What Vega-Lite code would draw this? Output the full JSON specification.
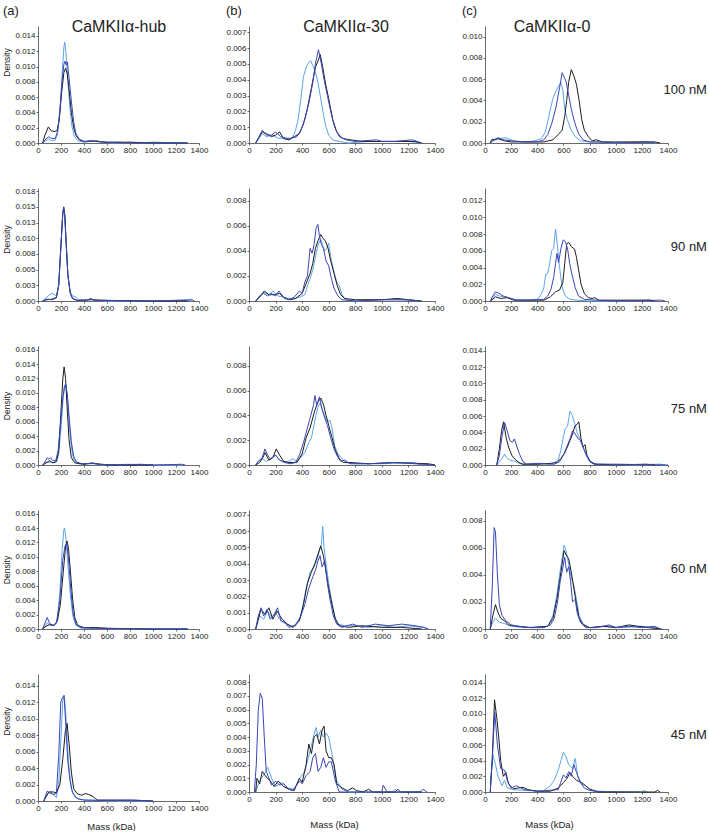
{
"$schema": "https://vega.github.io/schema/vega-lite/v6.json",
"padding": {"left": 2, "top": 4, "right": 0, "bottom": 0},
"config": {
 "font": "Liberation Sans",
 "view": {"stroke": null},
 "axis": {"grid": false, "labelFontSize": 8, "labelFont": "Liberation Sans", "labelColor": "#222", "tickSize": 2, "tickColor": "#444", "domainColor": "#444", "domainWidth": 0.8, "tickWidth": 0.8, "labelPadding": 1, "labelOverlap": false, "labelFlush": false, "titleFontWeight": "normal", "titleFont": "Liberation Sans", "titleColor": "#222"},
 "title": {"fontWeight": "normal", "font": "Liberation Sans", "color": "#222"}
},
"datasets": {
"a1": [
{"s":"LB","m":40,"d":0},{"s":"LB","m":60,"d":0.0002},{"s":"LB","m":90,"d":0.0005},{"s":"LB","m":120,"d":0.0003},{"s":"LB","m":150,"d":0.0004},{"s":"LB","m":170,"d":0.0012},{"s":"LB","m":190,"d":0.004},{"s":"LB","m":210,"d":0.009},{"s":"LB","m":225,"d":0.0125},{"s":"LB","m":233,"d":0.0132},{"s":"LB","m":243,"d":0.0118},{"s":"LB","m":258,"d":0.0085},{"s":"LB","m":275,"d":0.005},{"s":"LB","m":295,"d":0.0022},{"s":"LB","m":315,"d":0.0009},{"s":"LB","m":345,"d":0.0003},{"s":"LB","m":400,"d":0.0001},{"s":"LB","m":460,"d":0.0002},{"s":"LB","m":500,"d":0.0003},{"s":"LB","m":550,"d":0.0001},{"s":"LB","m":650,"d":0},{"s":"LB","m":800,"d":0.0001},{"s":"LB","m":1000,"d":0},{"s":"LB","m":1300,"d":0},
{"s":"BK","m":40,"d":0},{"s":"BK","m":60,"d":0.001},{"s":"BK","m":90,"d":0.0021},{"s":"BK","m":115,"d":0.0016},{"s":"BK","m":140,"d":0.0015},{"s":"BK","m":165,"d":0.0016},{"s":"BK","m":185,"d":0.003},{"s":"BK","m":205,"d":0.0065},{"s":"BK","m":225,"d":0.0092},{"s":"BK","m":240,"d":0.0098},{"s":"BK","m":255,"d":0.009},{"s":"BK","m":270,"d":0.007},{"s":"BK","m":290,"d":0.004},{"s":"BK","m":310,"d":0.002},{"s":"BK","m":330,"d":0.001},{"s":"BK","m":360,"d":0.0004},{"s":"BK","m":400,"d":0.0002},{"s":"BK","m":460,"d":0.0003},{"s":"BK","m":500,"d":0.0002},{"s":"BK","m":600,"d":0.0001},{"s":"BK","m":800,"d":0.0001},{"s":"BK","m":1000,"d":0},{"s":"BK","m":1300,"d":0},
{"s":"DB","m":40,"d":0},{"s":"DB","m":60,"d":0.0004},{"s":"DB","m":90,"d":0.0008},{"s":"DB","m":120,"d":0.0006},{"s":"DB","m":150,"d":0.0006},{"s":"DB","m":170,"d":0.0015},{"s":"DB","m":190,"d":0.0042},{"s":"DB","m":210,"d":0.0082},{"s":"DB","m":225,"d":0.0103},{"s":"DB","m":235,"d":0.0107},{"s":"DB","m":245,"d":0.0102},{"s":"DB","m":255,"d":0.0106},{"s":"DB","m":270,"d":0.0085},{"s":"DB","m":290,"d":0.0055},{"s":"DB","m":310,"d":0.0028},{"s":"DB","m":330,"d":0.0012},{"s":"DB","m":360,"d":0.0005},{"s":"DB","m":400,"d":0.0002},{"s":"DB","m":460,"d":0.0002},{"s":"DB","m":500,"d":0.0003},{"s":"DB","m":540,"d":0.0002},{"s":"DB","m":600,"d":0.0001},{"s":"DB","m":700,"d":0.0001},{"s":"DB","m":850,"d":0},{"s":"DB","m":1000,"d":0.0001},{"s":"DB","m":1300,"d":0}
],
"b1": [
{"s":"LB","m":50,"d":0},{"s":"LB","m":70,"d":0.0002},{"s":"LB","m":100,"d":0.0006},{"s":"LB","m":130,"d":0.0004},{"s":"LB","m":180,"d":0.0005},{"s":"LB","m":220,"d":0.0003},{"s":"LB","m":250,"d":0.0003},{"s":"LB","m":300,"d":0.0002},{"s":"LB","m":330,"d":0.0004},{"s":"LB","m":350,"d":0.0008},{"s":"LB","m":370,"d":0.0015},{"s":"LB","m":390,"d":0.0028},{"s":"LB","m":410,"d":0.0042},{"s":"LB","m":430,"d":0.0048},{"s":"LB","m":450,"d":0.0051},{"s":"LB","m":465,"d":0.0052},{"s":"LB","m":480,"d":0.0049},{"s":"LB","m":500,"d":0.0045},{"s":"LB","m":520,"d":0.0038},{"s":"LB","m":540,"d":0.0028},{"s":"LB","m":560,"d":0.0018},{"s":"LB","m":580,"d":0.001},{"s":"LB","m":600,"d":0.0005},{"s":"LB","m":630,"d":0.0002},{"s":"LB","m":680,"d":0.0001},{"s":"LB","m":750,"d":0},{"s":"LB","m":900,"d":0.0001},{"s":"LB","m":1000,"d":0.0001},{"s":"LB","m":1200,"d":0.0001},{"s":"LB","m":1300,"d":0},
{"s":"BK","m":50,"d":0},{"s":"BK","m":70,"d":0.0003},{"s":"BK","m":100,"d":0.0007},{"s":"BK","m":130,"d":0.0006},{"s":"BK","m":170,"d":0.0004},{"s":"BK","m":200,"d":0.0005},{"s":"BK","m":230,"d":0.0007},{"s":"BK","m":260,"d":0.0003},{"s":"BK","m":300,"d":0.0002},{"s":"BK","m":340,"d":0.0004},{"s":"BK","m":380,"d":0.0006},{"s":"BK","m":410,"d":0.0012},{"s":"BK","m":440,"d":0.0022},{"s":"BK","m":470,"d":0.0035},{"s":"BK","m":500,"d":0.0048},{"s":"BK","m":520,"d":0.0052},{"s":"BK","m":536,"d":0.0056},{"s":"BK","m":555,"d":0.0048},{"s":"BK","m":575,"d":0.0038},{"s":"BK","m":600,"d":0.0028},{"s":"BK","m":630,"d":0.0015},{"s":"BK","m":660,"d":0.0007},{"s":"BK","m":700,"d":0.0003},{"s":"BK","m":760,"d":0.0002},{"s":"BK","m":850,"d":0.0001},{"s":"BK","m":1000,"d":0.0001},{"s":"BK","m":1250,"d":0.0001},{"s":"BK","m":1300,"d":0},
{"s":"DB","m":50,"d":0},{"s":"DB","m":70,"d":0.0003},{"s":"DB","m":100,"d":0.0008},{"s":"DB","m":130,"d":0.0005},{"s":"DB","m":170,"d":0.0005},{"s":"DB","m":200,"d":0.0007},{"s":"DB","m":240,"d":0.0004},{"s":"DB","m":280,"d":0.0003},{"s":"DB","m":320,"d":0.0003},{"s":"DB","m":360,"d":0.0004},{"s":"DB","m":390,"d":0.0008},{"s":"DB","m":420,"d":0.0015},{"s":"DB","m":450,"d":0.0025},{"s":"DB","m":480,"d":0.0038},{"s":"DB","m":500,"d":0.005},{"s":"DB","m":523,"d":0.0059},{"s":"DB","m":545,"d":0.005},{"s":"DB","m":565,"d":0.004},{"s":"DB","m":590,"d":0.003},{"s":"DB","m":620,"d":0.0018},{"s":"DB","m":645,"d":0.001},{"s":"DB","m":680,"d":0.0004},{"s":"DB","m":730,"d":0.0002},{"s":"DB","m":800,"d":0.0001},{"s":"DB","m":960,"d":0.0002},{"s":"DB","m":1000,"d":0.0001},{"s":"DB","m":1100,"d":0.0001},{"s":"DB","m":1230,"d":0.0002},{"s":"DB","m":1300,"d":0}
],
"c1": [
{"s":"LB","m":40,"d":0},{"s":"LB","m":60,"d":0.0002},{"s":"LB","m":100,"d":0.0004},{"s":"LB","m":160,"d":0.0005},{"s":"LB","m":220,"d":0.0002},{"s":"LB","m":300,"d":0.0001},{"s":"LB","m":380,"d":0.0002},{"s":"LB","m":430,"d":0.0004},{"s":"LB","m":460,"d":0.001},{"s":"LB","m":480,"d":0.002},{"s":"LB","m":500,"d":0.0032},{"s":"LB","m":520,"d":0.0042},{"s":"LB","m":540,"d":0.0048},{"s":"LB","m":560,"d":0.0053},{"s":"LB","m":580,"d":0.0057},{"s":"LB","m":595,"d":0.005},{"s":"LB","m":610,"d":0.0032},{"s":"LB","m":630,"d":0.0022},{"s":"LB","m":660,"d":0.0012},{"s":"LB","m":690,"d":0.0006},{"s":"LB","m":730,"d":0.0002},{"s":"LB","m":800,"d":0.0001},{"s":"LB","m":1000,"d":0},{"s":"LB","m":1200,"d":0.0001},{"s":"LB","m":1300,"d":0},
{"s":"BK","m":40,"d":0},{"s":"BK","m":50,"d":0.0003},{"s":"BK","m":100,"d":0.0004},{"s":"BK","m":150,"d":0.0002},{"s":"BK","m":200,"d":0.0001},{"s":"BK","m":300,"d":0.0001},{"s":"BK","m":450,"d":0.0001},{"s":"BK","m":520,"d":0.0003},{"s":"BK","m":560,"d":0.0008},{"s":"BK","m":590,"d":0.0012},{"s":"BK","m":610,"d":0.0025},{"s":"BK","m":625,"d":0.004},{"s":"BK","m":640,"d":0.0057},{"s":"BK","m":660,"d":0.0069},{"s":"BK","m":680,"d":0.0063},{"s":"BK","m":700,"d":0.0055},{"s":"BK","m":720,"d":0.004},{"s":"BK","m":740,"d":0.0022},{"s":"BK","m":760,"d":0.0012},{"s":"BK","m":790,"d":0.0006},{"s":"BK","m":820,"d":0.0002},{"s":"BK","m":850,"d":0.0003},{"s":"BK","m":900,"d":0.0001},{"s":"BK","m":1000,"d":0.0001},{"s":"BK","m":1300,"d":0.0001},{"s":"BK","m":1340,"d":0},
{"s":"DB","m":40,"d":0},{"s":"DB","m":60,"d":0.0002},{"s":"DB","m":100,"d":0.0005},{"s":"DB","m":140,"d":0.0003},{"s":"DB","m":200,"d":0.0002},{"s":"DB","m":300,"d":0.0001},{"s":"DB","m":400,"d":0.0001},{"s":"DB","m":450,"d":0.0003},{"s":"DB","m":480,"d":0.0008},{"s":"DB","m":510,"d":0.0018},{"s":"DB","m":540,"d":0.0032},{"s":"DB","m":560,"d":0.0045},{"s":"DB","m":575,"d":0.0055},{"s":"DB","m":590,"d":0.0066},{"s":"DB","m":605,"d":0.0062},{"s":"DB","m":620,"d":0.0058},{"s":"DB","m":640,"d":0.0045},{"s":"DB","m":660,"d":0.0032},{"s":"DB","m":680,"d":0.0022},{"s":"DB","m":700,"d":0.0014},{"s":"DB","m":720,"d":0.0008},{"s":"DB","m":750,"d":0.0003},{"s":"DB","m":800,"d":0.0001},{"s":"DB","m":900,"d":0.0001},{"s":"DB","m":1000,"d":0},{"s":"DB","m":1250,"d":0.0001},{"s":"DB","m":1300,"d":0}
],
"a2": [
{"s":"LB","m":40,"d":0},{"s":"LB","m":70,"d":0.0005},{"s":"LB","m":100,"d":0.001},{"s":"LB","m":130,"d":0.0012},{"s":"LB","m":160,"d":0.0008},{"s":"LB","m":180,"d":0.0025},{"s":"LB","m":200,"d":0.009},{"s":"LB","m":215,"d":0.0138},{"s":"LB","m":222,"d":0.0148},{"s":"LB","m":232,"d":0.0135},{"s":"LB","m":245,"d":0.009},{"s":"LB","m":260,"d":0.004},{"s":"LB","m":280,"d":0.0015},{"s":"LB","m":300,"d":0.0008},{"s":"LB","m":325,"d":0.0007},{"s":"LB","m":350,"d":0.0002},{"s":"LB","m":420,"d":0.0001},{"s":"LB","m":460,"d":0.0003},{"s":"LB","m":500,"d":0.0001},{"s":"LB","m":600,"d":0},{"s":"LB","m":800,"d":0},{"s":"LB","m":1300,"d":0.0001},{"s":"LB","m":1340,"d":0},
{"s":"BK","m":40,"d":0},{"s":"BK","m":80,"d":0.0003},{"s":"BK","m":120,"d":0.0002},{"s":"BK","m":160,"d":0.0005},{"s":"BK","m":180,"d":0.0025},{"s":"BK","m":200,"d":0.009},{"s":"BK","m":215,"d":0.0139},{"s":"BK","m":224,"d":0.015},{"s":"BK","m":234,"d":0.0136},{"s":"BK","m":246,"d":0.009},{"s":"BK","m":260,"d":0.0042},{"s":"BK","m":280,"d":0.0013},{"s":"BK","m":300,"d":0.0004},{"s":"BK","m":340,"d":0.0001},{"s":"BK","m":460,"d":0.0002},{"s":"BK","m":600,"d":0.0001},{"s":"BK","m":1000,"d":0},{"s":"BK","m":1300,"d":0},
{"s":"DB","m":40,"d":0},{"s":"DB","m":80,"d":0.0002},{"s":"DB","m":120,"d":0.0003},{"s":"DB","m":160,"d":0.0006},{"s":"DB","m":180,"d":0.0025},{"s":"DB","m":200,"d":0.009},{"s":"DB","m":215,"d":0.0138},{"s":"DB","m":223,"d":0.0149},{"s":"DB","m":233,"d":0.0135},{"s":"DB","m":245,"d":0.009},{"s":"DB","m":260,"d":0.004},{"s":"DB","m":280,"d":0.0013},{"s":"DB","m":300,"d":0.0004},{"s":"DB","m":340,"d":0.0001},{"s":"DB","m":420,"d":0.0001},{"s":"DB","m":460,"d":0.0004},{"s":"DB","m":490,"d":0.0001},{"s":"DB","m":600,"d":0.0001},{"s":"DB","m":800,"d":0},{"s":"DB","m":1000,"d":0},{"s":"DB","m":1340,"d":0.0002},{"s":"DB","m":1360,"d":0}
],
"b2": [
{"s":"LB","m":50,"d":0},{"s":"LB","m":80,"d":0.0004},{"s":"LB","m":110,"d":0.0007},{"s":"LB","m":150,"d":0.0005},{"s":"LB","m":180,"d":0.0008},{"s":"LB","m":220,"d":0.0004},{"s":"LB","m":260,"d":0.0003},{"s":"LB","m":300,"d":0.0002},{"s":"LB","m":340,"d":0.0002},{"s":"LB","m":380,"d":0.0003},{"s":"LB","m":420,"d":0.0005},{"s":"LB","m":440,"d":0.0012},{"s":"LB","m":460,"d":0.0018},{"s":"LB","m":480,"d":0.0025},{"s":"LB","m":500,"d":0.0035},{"s":"LB","m":520,"d":0.0045},{"s":"LB","m":540,"d":0.0049},{"s":"LB","m":555,"d":0.0044},{"s":"LB","m":570,"d":0.004},{"s":"LB","m":585,"d":0.0042},{"s":"LB","m":600,"d":0.0046},{"s":"LB","m":615,"d":0.0035},{"s":"LB","m":635,"d":0.0025},{"s":"LB","m":660,"d":0.0015},{"s":"LB","m":680,"d":0.0012},{"s":"LB","m":700,"d":0.0005},{"s":"LB","m":730,"d":0.0001},{"s":"LB","m":800,"d":0},{"s":"LB","m":1000,"d":0.0001},{"s":"LB","m":1130,"d":0.0001},{"s":"LB","m":1300,"d":0},
{"s":"BK","m":50,"d":0},{"s":"BK","m":80,"d":0.0003},{"s":"BK","m":115,"d":0.0008},{"s":"BK","m":150,"d":0.0005},{"s":"BK","m":190,"d":0.0005},{"s":"BK","m":230,"d":0.0006},{"s":"BK","m":270,"d":0.0002},{"s":"BK","m":310,"d":0.0001},{"s":"BK","m":350,"d":0.0002},{"s":"BK","m":400,"d":0.0006},{"s":"BK","m":430,"d":0.0014},{"s":"BK","m":460,"d":0.0022},{"s":"BK","m":480,"d":0.003},{"s":"BK","m":500,"d":0.0042},{"s":"BK","m":520,"d":0.0048},{"s":"BK","m":540,"d":0.0053},{"s":"BK","m":555,"d":0.005},{"s":"BK","m":575,"d":0.0048},{"s":"BK","m":595,"d":0.0042},{"s":"BK","m":615,"d":0.0032},{"s":"BK","m":640,"d":0.0022},{"s":"BK","m":665,"d":0.0012},{"s":"BK","m":690,"d":0.0005},{"s":"BK","m":720,"d":0.0002},{"s":"BK","m":800,"d":0.0001},{"s":"BK","m":1000,"d":0.0001},{"s":"BK","m":1120,"d":0.0002},{"s":"BK","m":1200,"d":0.0001},{"s":"BK","m":1300,"d":0},
{"s":"DB","m":50,"d":0},{"s":"DB","m":80,"d":0.0004},{"s":"DB","m":110,"d":0.0006},{"s":"DB","m":140,"d":0.0004},{"s":"DB","m":170,"d":0.0006},{"s":"DB","m":200,"d":0.0004},{"s":"DB","m":225,"d":0.0008},{"s":"DB","m":260,"d":0.0003},{"s":"DB","m":300,"d":0.0001},{"s":"DB","m":340,"d":0.0003},{"s":"DB","m":380,"d":0.0008},{"s":"DB","m":400,"d":0.0006},{"s":"DB","m":420,"d":0.0015},{"s":"DB","m":440,"d":0.002},{"s":"DB","m":460,"d":0.0042},{"s":"DB","m":475,"d":0.0038},{"s":"DB","m":490,"d":0.0045},{"s":"DB","m":505,"d":0.0058},{"s":"DB","m":518,"d":0.0061},{"s":"DB","m":530,"d":0.0052},{"s":"DB","m":545,"d":0.0045},{"s":"DB","m":560,"d":0.0042},{"s":"DB","m":580,"d":0.0032},{"s":"DB","m":600,"d":0.0028},{"s":"DB","m":620,"d":0.0018},{"s":"DB","m":640,"d":0.001},{"s":"DB","m":670,"d":0.0004},{"s":"DB","m":700,"d":0.0001},{"s":"DB","m":800,"d":0},{"s":"DB","m":1000,"d":0.0001},{"s":"DB","m":1200,"d":0.0001},{"s":"DB","m":1280,"d":0}
],
"c2": [
{"s":"LB","m":40,"d":0},{"s":"LB","m":60,"d":0.0004},{"s":"LB","m":80,"d":0.0008},{"s":"LB","m":110,"d":0.0006},{"s":"LB","m":150,"d":0.0005},{"s":"LB","m":190,"d":0.0003},{"s":"LB","m":250,"d":0.0001},{"s":"LB","m":350,"d":0.0001},{"s":"LB","m":400,"d":0.0002},{"s":"LB","m":430,"d":0.0008},{"s":"LB","m":450,"d":0.0016},{"s":"LB","m":465,"d":0.0032},{"s":"LB","m":480,"d":0.0033},{"s":"LB","m":495,"d":0.0045},{"s":"LB","m":510,"d":0.006},{"s":"LB","m":525,"d":0.0063},{"s":"LB","m":540,"d":0.0086},{"s":"LB","m":553,"d":0.0068},{"s":"LB","m":565,"d":0.0048},{"s":"LB","m":580,"d":0.0028},{"s":"LB","m":595,"d":0.0014},{"s":"LB","m":615,"d":0.0006},{"s":"LB","m":650,"d":0.0002},{"s":"LB","m":700,"d":0.0001},{"s":"LB","m":800,"d":0},{"s":"LB","m":1000,"d":0},{"s":"LB","m":1260,"d":0.0001},{"s":"LB","m":1300,"d":0},
{"s":"BK","m":40,"d":0},{"s":"BK","m":60,"d":0.0002},{"s":"BK","m":80,"d":0.0005},{"s":"BK","m":120,"d":0.0003},{"s":"BK","m":170,"d":0.0004},{"s":"BK","m":220,"d":0.0001},{"s":"BK","m":350,"d":0.0001},{"s":"BK","m":450,"d":0.0001},{"s":"BK","m":500,"d":0.0005},{"s":"BK","m":540,"d":0.0011},{"s":"BK","m":570,"d":0.0013},{"s":"BK","m":595,"d":0.0022},{"s":"BK","m":610,"d":0.0045},{"s":"BK","m":625,"d":0.0068},{"s":"BK","m":640,"d":0.007},{"s":"BK","m":660,"d":0.0065},{"s":"BK","m":685,"d":0.0062},{"s":"BK","m":700,"d":0.0052},{"s":"BK","m":715,"d":0.0038},{"s":"BK","m":735,"d":0.002},{"s":"BK","m":760,"d":0.0009},{"s":"BK","m":790,"d":0.0004},{"s":"BK","m":820,"d":0.0003},{"s":"BK","m":840,"d":0.0004},{"s":"BK","m":870,"d":0.0001},{"s":"BK","m":1000,"d":0.0001},{"s":"BK","m":1260,"d":0.0001},{"s":"BK","m":1300,"d":0},
{"s":"DB","m":40,"d":0},{"s":"DB","m":60,"d":0.0006},{"s":"DB","m":80,"d":0.0011},{"s":"DB","m":110,"d":0.0009},{"s":"DB","m":140,"d":0.0006},{"s":"DB","m":180,"d":0.0004},{"s":"DB","m":240,"d":0.0001},{"s":"DB","m":350,"d":0.0001},{"s":"DB","m":450,"d":0.0002},{"s":"DB","m":480,"d":0.0006},{"s":"DB","m":505,"d":0.0014},{"s":"DB","m":525,"d":0.0028},{"s":"DB","m":540,"d":0.0045},{"s":"DB","m":550,"d":0.0057},{"s":"DB","m":563,"d":0.0046},{"s":"DB","m":580,"d":0.0062},{"s":"DB","m":598,"d":0.0073},{"s":"DB","m":615,"d":0.0071},{"s":"DB","m":632,"d":0.0062},{"s":"DB","m":648,"d":0.0045},{"s":"DB","m":665,"d":0.0032},{"s":"DB","m":690,"d":0.0016},{"s":"DB","m":715,"d":0.0006},{"s":"DB","m":760,"d":0.0002},{"s":"DB","m":850,"d":0.0001},{"s":"DB","m":1000,"d":0},{"s":"DB","m":1350,"d":0.0001},{"s":"DB","m":1380,"d":0}
],
"a3": [
{"s":"LB","m":40,"d":0},{"s":"LB","m":70,"d":0.0003},{"s":"LB","m":100,"d":0.0004},{"s":"LB","m":130,"d":0.0003},{"s":"LB","m":160,"d":0.0004},{"s":"LB","m":180,"d":0.0015},{"s":"LB","m":200,"d":0.005},{"s":"LB","m":220,"d":0.0095},{"s":"LB","m":238,"d":0.0112},{"s":"LB","m":255,"d":0.0095},{"s":"LB","m":270,"d":0.006},{"s":"LB","m":290,"d":0.0025},{"s":"LB","m":310,"d":0.0008},{"s":"LB","m":340,"d":0.0002},{"s":"LB","m":400,"d":0.0001},{"s":"LB","m":480,"d":0.0002},{"s":"LB","m":550,"d":0},{"s":"LB","m":800,"d":0.0001},{"s":"LB","m":1000,"d":0},{"s":"LB","m":1250,"d":0},
{"s":"BK","m":40,"d":0},{"s":"BK","m":70,"d":0.0003},{"s":"BK","m":100,"d":0.0006},{"s":"BK","m":130,"d":0.0003},{"s":"BK","m":160,"d":0.0005},{"s":"BK","m":180,"d":0.002},{"s":"BK","m":200,"d":0.0075},{"s":"BK","m":215,"d":0.0118},{"s":"BK","m":227,"d":0.0136},{"s":"BK","m":240,"d":0.012},{"s":"BK","m":255,"d":0.0075},{"s":"BK","m":270,"d":0.0035},{"s":"BK","m":290,"d":0.001},{"s":"BK","m":320,"d":0.0003},{"s":"BK","m":400,"d":0.0001},{"s":"BK","m":470,"d":0.0003},{"s":"BK","m":500,"d":0.0002},{"s":"BK","m":600,"d":0},{"s":"BK","m":800,"d":0},{"s":"BK","m":1000,"d":0},
{"s":"DB","m":40,"d":0},{"s":"DB","m":60,"d":0.0004},{"s":"DB","m":80,"d":0.001},{"s":"DB","m":95,"d":0.0008},{"s":"DB","m":110,"d":0.001},{"s":"DB","m":130,"d":0.0006},{"s":"DB","m":155,"d":0.0006},{"s":"DB","m":175,"d":0.002},{"s":"DB","m":195,"d":0.0055},{"s":"DB","m":215,"d":0.0092},{"s":"DB","m":230,"d":0.011},{"s":"DB","m":242,"d":0.0112},{"s":"DB","m":255,"d":0.0098},{"s":"DB","m":270,"d":0.0068},{"s":"DB","m":290,"d":0.0032},{"s":"DB","m":310,"d":0.0012},{"s":"DB","m":335,"d":0.0004},{"s":"DB","m":380,"d":0.0002},{"s":"DB","m":480,"d":0.0002},{"s":"DB","m":540,"d":0.0001},{"s":"DB","m":700,"d":0},{"s":"DB","m":900,"d":0.0001},{"s":"DB","m":1000,"d":0},{"s":"DB","m":1250,"d":0.0001},{"s":"DB","m":1280,"d":0}
],
"b3": [
{"s":"LB","m":50,"d":0},{"s":"LB","m":70,"d":0.0003},{"s":"LB","m":100,"d":0.0005},{"s":"LB","m":130,"d":0.0003},{"s":"LB","m":170,"d":0.0005},{"s":"LB","m":200,"d":0.0008},{"s":"LB","m":230,"d":0.0004},{"s":"LB","m":270,"d":0.0002},{"s":"LB","m":300,"d":0.0003},{"s":"LB","m":330,"d":0.0005},{"s":"LB","m":360,"d":0.0003},{"s":"LB","m":390,"d":0.0006},{"s":"LB","m":420,"d":0.001},{"s":"LB","m":450,"d":0.0018},{"s":"LB","m":470,"d":0.0022},{"s":"LB","m":500,"d":0.0038},{"s":"LB","m":520,"d":0.0047},{"s":"LB","m":535,"d":0.005},{"s":"LB","m":550,"d":0.0045},{"s":"LB","m":570,"d":0.004},{"s":"LB","m":590,"d":0.0035},{"s":"LB","m":610,"d":0.0036},{"s":"LB","m":625,"d":0.003},{"s":"LB","m":645,"d":0.0015},{"s":"LB","m":670,"d":0.0009},{"s":"LB","m":700,"d":0.0005},{"s":"LB","m":730,"d":0.0002},{"s":"LB","m":800,"d":0.0001},{"s":"LB","m":1000,"d":0.0001},{"s":"LB","m":1240,"d":0.0002},{"s":"LB","m":1300,"d":0},
{"s":"BK","m":50,"d":0},{"s":"BK","m":80,"d":0.0002},{"s":"BK","m":105,"d":0.0006},{"s":"BK","m":120,"d":0.001},{"s":"BK","m":150,"d":0.0004},{"s":"BK","m":180,"d":0.0006},{"s":"BK","m":205,"d":0.0013},{"s":"BK","m":230,"d":0.0008},{"s":"BK","m":260,"d":0.0003},{"s":"BK","m":300,"d":0.0002},{"s":"BK","m":360,"d":0.0002},{"s":"BK","m":400,"d":0.0009},{"s":"BK","m":430,"d":0.0022},{"s":"BK","m":460,"d":0.003},{"s":"BK","m":490,"d":0.0042},{"s":"BK","m":515,"d":0.005},{"s":"BK","m":540,"d":0.0054},{"s":"BK","m":560,"d":0.0049},{"s":"BK","m":580,"d":0.004},{"s":"BK","m":600,"d":0.0032},{"s":"BK","m":625,"d":0.0022},{"s":"BK","m":650,"d":0.0012},{"s":"BK","m":680,"d":0.0005},{"s":"BK","m":710,"d":0.0002},{"s":"BK","m":760,"d":0.0002},{"s":"BK","m":900,"d":0.0001},{"s":"BK","m":1080,"d":0.0002},{"s":"BK","m":1350,"d":0.0001},{"s":"BK","m":1400,"d":0},
{"s":"DB","m":50,"d":0},{"s":"DB","m":70,"d":0.0003},{"s":"DB","m":100,"d":0.0006},{"s":"DB","m":120,"d":0.0013},{"s":"DB","m":140,"d":0.0008},{"s":"DB","m":160,"d":0.0005},{"s":"DB","m":200,"d":0.0008},{"s":"DB","m":230,"d":0.0004},{"s":"DB","m":270,"d":0.0002},{"s":"DB","m":310,"d":0.0001},{"s":"DB","m":350,"d":0.0002},{"s":"DB","m":380,"d":0.0008},{"s":"DB","m":410,"d":0.0018},{"s":"DB","m":440,"d":0.003},{"s":"DB","m":465,"d":0.004},{"s":"DB","m":485,"d":0.0048},{"s":"DB","m":497,"d":0.0056},{"s":"DB","m":510,"d":0.0048},{"s":"DB","m":530,"d":0.0055},{"s":"DB","m":550,"d":0.0045},{"s":"DB","m":570,"d":0.0038},{"s":"DB","m":590,"d":0.0032},{"s":"DB","m":615,"d":0.0022},{"s":"DB","m":640,"d":0.0013},{"s":"DB","m":665,"d":0.0007},{"s":"DB","m":690,"d":0.0003},{"s":"DB","m":720,"d":0.0004},{"s":"DB","m":760,"d":0.0001},{"s":"DB","m":900,"d":0.0001},{"s":"DB","m":1100,"d":0.0002},{"s":"DB","m":1400,"d":0}
],
"c3": [
{"s":"LB","m":90,"d":0},{"s":"LB","m":110,"d":0.0004},{"s":"LB","m":130,"d":0.0008},{"s":"LB","m":150,"d":0.0013},{"s":"LB","m":165,"d":0.0009},{"s":"LB","m":190,"d":0.0006},{"s":"LB","m":220,"d":0.0005},{"s":"LB","m":250,"d":0.0003},{"s":"LB","m":280,"d":0.0001},{"s":"LB","m":400,"d":0.0001},{"s":"LB","m":520,"d":0.0002},{"s":"LB","m":560,"d":0.0006},{"s":"LB","m":580,"d":0.0018},{"s":"LB","m":600,"d":0.0035},{"s":"LB","m":615,"d":0.0045},{"s":"LB","m":632,"d":0.0048},{"s":"LB","m":650,"d":0.0066},{"s":"LB","m":668,"d":0.0061},{"s":"LB","m":688,"d":0.005},{"s":"LB","m":705,"d":0.004},{"s":"LB","m":725,"d":0.0032},{"s":"LB","m":745,"d":0.0025},{"s":"LB","m":770,"d":0.0013},{"s":"LB","m":795,"d":0.0005},{"s":"LB","m":830,"d":0.0001},{"s":"LB","m":900,"d":0.0001},{"s":"LB","m":1000,"d":0},{"s":"LB","m":1340,"d":0.0001},{"s":"LB","m":1380,"d":0},
{"s":"BK","m":90,"d":0},{"s":"BK","m":110,"d":0.002},{"s":"BK","m":128,"d":0.0043},{"s":"BK","m":142,"d":0.0053},{"s":"BK","m":160,"d":0.0035},{"s":"BK","m":180,"d":0.0022},{"s":"BK","m":205,"d":0.0012},{"s":"BK","m":230,"d":0.0007},{"s":"BK","m":260,"d":0.0003},{"s":"BK","m":290,"d":0.0001},{"s":"BK","m":400,"d":0.0001},{"s":"BK","m":500,"d":0.0002},{"s":"BK","m":550,"d":0.0003},{"s":"BK","m":580,"d":0.0008},{"s":"BK","m":610,"d":0.0015},{"s":"BK","m":630,"d":0.0022},{"s":"BK","m":650,"d":0.003},{"s":"BK","m":670,"d":0.0038},{"s":"BK","m":688,"d":0.0048},{"s":"BK","m":705,"d":0.005},{"s":"BK","m":718,"d":0.0053},{"s":"BK","m":735,"d":0.0032},{"s":"BK","m":750,"d":0.0022},{"s":"BK","m":765,"d":0.0025},{"s":"BK","m":780,"d":0.0012},{"s":"BK","m":805,"d":0.0004},{"s":"BK","m":840,"d":0.0001},{"s":"BK","m":1000,"d":0},{"s":"BK","m":1230,"d":0.0001},{"s":"BK","m":1300,"d":0},
{"s":"DB","m":90,"d":0},{"s":"DB","m":110,"d":0.0012},{"s":"DB","m":130,"d":0.0035},{"s":"DB","m":150,"d":0.0052},{"s":"DB","m":170,"d":0.0042},{"s":"DB","m":190,"d":0.003},{"s":"DB","m":210,"d":0.0028},{"s":"DB","m":225,"d":0.0032},{"s":"DB","m":245,"d":0.0022},{"s":"DB","m":265,"d":0.0013},{"s":"DB","m":290,"d":0.0004},{"s":"DB","m":320,"d":0.0001},{"s":"DB","m":380,"d":0.0002},{"s":"DB","m":430,"d":0.0002},{"s":"DB","m":480,"d":0.0001},{"s":"DB","m":530,"d":0.0001},{"s":"DB","m":570,"d":0.0004},{"s":"DB","m":600,"d":0.0012},{"s":"DB","m":625,"d":0.0022},{"s":"DB","m":650,"d":0.0032},{"s":"DB","m":670,"d":0.0042},{"s":"DB","m":690,"d":0.0038},{"s":"DB","m":710,"d":0.0033},{"s":"DB","m":730,"d":0.003},{"s":"DB","m":755,"d":0.002},{"s":"DB","m":780,"d":0.0011},{"s":"DB","m":810,"d":0.0004},{"s":"DB","m":850,"d":0.0001},{"s":"DB","m":1000,"d":0.0001},{"s":"DB","m":1400,"d":0}
],
"a4": [
{"s":"LB","m":40,"d":0},{"s":"LB","m":60,"d":0.0005},{"s":"LB","m":80,"d":0.0008},{"s":"LB","m":110,"d":0.0005},{"s":"LB","m":140,"d":0.0005},{"s":"LB","m":165,"d":0.001},{"s":"LB","m":190,"d":0.005},{"s":"LB","m":210,"d":0.011},{"s":"LB","m":225,"d":0.0138},{"s":"LB","m":232,"d":0.014},{"s":"LB","m":245,"d":0.0122},{"s":"LB","m":262,"d":0.0085},{"s":"LB","m":285,"d":0.0042},{"s":"LB","m":305,"d":0.0016},{"s":"LB","m":330,"d":0.0005},{"s":"LB","m":380,"d":0.0001},{"s":"LB","m":500,"d":0.0001},{"s":"LB","m":1000,"d":0},{"s":"LB","m":1300,"d":0},
{"s":"BK","m":40,"d":0},{"s":"BK","m":70,"d":0.0004},{"s":"BK","m":100,"d":0.0006},{"s":"BK","m":140,"d":0.0005},{"s":"BK","m":170,"d":0.0012},{"s":"BK","m":195,"d":0.0035},{"s":"BK","m":220,"d":0.008},{"s":"BK","m":240,"d":0.0115},{"s":"BK","m":252,"d":0.0122},{"s":"BK","m":265,"d":0.0112},{"s":"BK","m":282,"d":0.008},{"s":"BK","m":300,"d":0.0043},{"s":"BK","m":320,"d":0.0016},{"s":"BK","m":345,"d":0.0005},{"s":"BK","m":400,"d":0.0002},{"s":"BK","m":500,"d":0.0002},{"s":"BK","m":600,"d":0.0001},{"s":"BK","m":1000,"d":0},{"s":"BK","m":1300,"d":0},
{"s":"DB","m":40,"d":0},{"s":"DB","m":60,"d":0.0008},{"s":"DB","m":80,"d":0.0016},{"s":"DB","m":100,"d":0.0008},{"s":"DB","m":130,"d":0.0005},{"s":"DB","m":160,"d":0.0008},{"s":"DB","m":190,"d":0.004},{"s":"DB","m":215,"d":0.0095},{"s":"DB","m":235,"d":0.0115},{"s":"DB","m":250,"d":0.0119},{"s":"DB","m":265,"d":0.0098},{"s":"DB","m":285,"d":0.0055},{"s":"DB","m":305,"d":0.0022},{"s":"DB","m":330,"d":0.0007},{"s":"DB","m":370,"d":0.0002},{"s":"DB","m":500,"d":0.0001},{"s":"DB","m":1000,"d":0},{"s":"DB","m":1300,"d":0}
],
"b4": [
{"s":"LB","m":50,"d":0},{"s":"LB","m":80,"d":0.0008},{"s":"LB","m":110,"d":0.0006},{"s":"LB","m":140,"d":0.0011},{"s":"LB","m":170,"d":0.0007},{"s":"LB","m":200,"d":0.001},{"s":"LB","m":230,"d":0.0006},{"s":"LB","m":260,"d":0.0004},{"s":"LB","m":300,"d":0.0002},{"s":"LB","m":340,"d":0.0002},{"s":"LB","m":380,"d":0.0006},{"s":"LB","m":400,"d":0.0012},{"s":"LB","m":430,"d":0.0025},{"s":"LB","m":460,"d":0.0035},{"s":"LB","m":490,"d":0.0038},{"s":"LB","m":510,"d":0.0042},{"s":"LB","m":530,"d":0.0048},{"s":"LB","m":545,"d":0.0052},{"s":"LB","m":555,"d":0.0063},{"s":"LB","m":565,"d":0.005},{"s":"LB","m":580,"d":0.004},{"s":"LB","m":600,"d":0.0028},{"s":"LB","m":620,"d":0.0018},{"s":"LB","m":645,"d":0.0008},{"s":"LB","m":670,"d":0.0003},{"s":"LB","m":720,"d":0.0002},{"s":"LB","m":800,"d":0.0002},{"s":"LB","m":900,"d":0.0001},{"s":"LB","m":1000,"d":0.0002},{"s":"LB","m":1100,"d":0.0001},{"s":"LB","m":1200,"d":0.0002},{"s":"LB","m":1300,"d":0.0001},{"s":"LB","m":1350,"d":0},
{"s":"BK","m":50,"d":0},{"s":"BK","m":70,"d":0.0006},{"s":"BK","m":90,"d":0.0012},{"s":"BK","m":120,"d":0.0009},{"s":"BK","m":150,"d":0.0013},{"s":"BK","m":180,"d":0.0006},{"s":"BK","m":210,"d":0.0011},{"s":"BK","m":250,"d":0.0006},{"s":"BK","m":290,"d":0.0003},{"s":"BK","m":330,"d":0.0001},{"s":"BK","m":380,"d":0.0005},{"s":"BK","m":410,"d":0.0015},{"s":"BK","m":440,"d":0.0028},{"s":"BK","m":470,"d":0.0035},{"s":"BK","m":495,"d":0.004},{"s":"BK","m":520,"d":0.0046},{"s":"BK","m":540,"d":0.0051},{"s":"BK","m":560,"d":0.0045},{"s":"BK","m":580,"d":0.0035},{"s":"BK","m":600,"d":0.0025},{"s":"BK","m":625,"d":0.0015},{"s":"BK","m":650,"d":0.0006},{"s":"BK","m":680,"d":0.0002},{"s":"BK","m":750,"d":0.0001},{"s":"BK","m":850,"d":0.0002},{"s":"BK","m":1000,"d":0.0001},{"s":"BK","m":1150,"d":0.0001},{"s":"BK","m":1300,"d":0},
{"s":"DB","m":50,"d":0},{"s":"DB","m":70,"d":0.0008},{"s":"DB","m":90,"d":0.0013},{"s":"DB","m":110,"d":0.0008},{"s":"DB","m":135,"d":0.0012},{"s":"DB","m":160,"d":0.0006},{"s":"DB","m":190,"d":0.0009},{"s":"DB","m":215,"d":0.0013},{"s":"DB","m":240,"d":0.0005},{"s":"DB","m":270,"d":0.0004},{"s":"DB","m":300,"d":0.0001},{"s":"DB","m":350,"d":0.0002},{"s":"DB","m":390,"d":0.0008},{"s":"DB","m":420,"d":0.0015},{"s":"DB","m":450,"d":0.0025},{"s":"DB","m":480,"d":0.0032},{"s":"DB","m":500,"d":0.0036},{"s":"DB","m":520,"d":0.0042},{"s":"DB","m":535,"d":0.0045},{"s":"DB","m":550,"d":0.0038},{"s":"DB","m":570,"d":0.0042},{"s":"DB","m":590,"d":0.0028},{"s":"DB","m":610,"d":0.0018},{"s":"DB","m":635,"d":0.0008},{"s":"DB","m":660,"d":0.0003},{"s":"DB","m":700,"d":0.0001},{"s":"DB","m":780,"d":0.0003},{"s":"DB","m":850,"d":0.0001},{"s":"DB","m":950,"d":0.0003},{"s":"DB","m":1050,"d":0.0002},{"s":"DB","m":1150,"d":0.0003},{"s":"DB","m":1250,"d":0.0002},{"s":"DB","m":1320,"d":0.0001},{"s":"DB","m":1350,"d":0}
],
"c4": [
{"s":"LB","m":40,"d":0},{"s":"LB","m":60,"d":0.0005},{"s":"LB","m":80,"d":0.0008},{"s":"LB","m":110,"d":0.0005},{"s":"LB","m":150,"d":0.0004},{"s":"LB","m":200,"d":0.0002},{"s":"LB","m":300,"d":0.0001},{"s":"LB","m":480,"d":0.0002},{"s":"LB","m":520,"d":0.001},{"s":"LB","m":550,"d":0.0025},{"s":"LB","m":570,"d":0.004},{"s":"LB","m":590,"d":0.0052},{"s":"LB","m":605,"d":0.0062},{"s":"LB","m":620,"d":0.0058},{"s":"LB","m":640,"d":0.0048},{"s":"LB","m":660,"d":0.0038},{"s":"LB","m":680,"d":0.0032},{"s":"LB","m":700,"d":0.0022},{"s":"LB","m":720,"d":0.001},{"s":"LB","m":750,"d":0.0004},{"s":"LB","m":800,"d":0.0001},{"s":"LB","m":950,"d":0.0002},{"s":"LB","m":1050,"d":0.0001},{"s":"LB","m":1200,"d":0.0002},{"s":"LB","m":1300,"d":0.0001},{"s":"LB","m":1350,"d":0},
{"s":"BK","m":40,"d":0},{"s":"BK","m":60,"d":0.001},{"s":"BK","m":80,"d":0.0018},{"s":"BK","m":100,"d":0.0012},{"s":"BK","m":120,"d":0.0008},{"s":"BK","m":150,"d":0.0006},{"s":"BK","m":180,"d":0.0003},{"s":"BK","m":250,"d":0.0002},{"s":"BK","m":350,"d":0.0001},{"s":"BK","m":480,"d":0.0002},{"s":"BK","m":520,"d":0.0008},{"s":"BK","m":550,"d":0.0022},{"s":"BK","m":570,"d":0.0035},{"s":"BK","m":590,"d":0.0048},{"s":"BK","m":605,"d":0.0058},{"s":"BK","m":620,"d":0.0055},{"s":"BK","m":640,"d":0.0052},{"s":"BK","m":660,"d":0.0042},{"s":"BK","m":680,"d":0.003},{"s":"BK","m":700,"d":0.0018},{"s":"BK","m":720,"d":0.0008},{"s":"BK","m":750,"d":0.0003},{"s":"BK","m":800,"d":0.0001},{"s":"BK","m":900,"d":0.0002},{"s":"BK","m":1000,"d":0.0001},{"s":"BK","m":1100,"d":0.0003},{"s":"BK","m":1250,"d":0.0001},{"s":"BK","m":1350,"d":0},
{"s":"DB","m":40,"d":0},{"s":"DB","m":55,"d":0.003},{"s":"DB","m":70,"d":0.0075},{"s":"DB","m":80,"d":0.0072},{"s":"DB","m":95,"d":0.004},{"s":"DB","m":110,"d":0.0018},{"s":"DB","m":130,"d":0.001},{"s":"DB","m":160,"d":0.0006},{"s":"DB","m":200,"d":0.0003},{"s":"DB","m":260,"d":0.0002},{"s":"DB","m":350,"d":0.0001},{"s":"DB","m":450,"d":0.0001},{"s":"DB","m":500,"d":0.0003},{"s":"DB","m":530,"d":0.0008},{"s":"DB","m":555,"d":0.002},{"s":"DB","m":575,"d":0.0035},{"s":"DB","m":595,"d":0.0045},{"s":"DB","m":610,"d":0.0053},{"s":"DB","m":625,"d":0.0042},{"s":"DB","m":640,"d":0.0046},{"s":"DB","m":655,"d":0.0035},{"s":"DB","m":670,"d":0.002},{"s":"DB","m":690,"d":0.0022},{"s":"DB","m":705,"d":0.0012},{"s":"DB","m":730,"d":0.0005},{"s":"DB","m":770,"d":0.0001},{"s":"DB","m":850,"d":0.0001},{"s":"DB","m":950,"d":0.0003},{"s":"DB","m":1000,"d":0.0001},{"s":"DB","m":1100,"d":0.0002},{"s":"DB","m":1200,"d":0.0001},{"s":"DB","m":1300,"d":0.0002},{"s":"DB","m":1340,"d":0}
],
"a5": [
{"s":"LB","m":50,"d":0},{"s":"LB","m":80,"d":0.0008},{"s":"LB","m":100,"d":0.0011},{"s":"LB","m":130,"d":0.0009},{"s":"LB","m":160,"d":0.0004},{"s":"LB","m":180,"d":0.002},{"s":"LB","m":200,"d":0.0078},{"s":"LB","m":215,"d":0.0122},{"s":"LB","m":228,"d":0.0128},{"s":"LB","m":240,"d":0.011},{"s":"LB","m":255,"d":0.007},{"s":"LB","m":270,"d":0.004},{"s":"LB","m":290,"d":0.0015},{"s":"LB","m":320,"d":0.0005},{"s":"LB","m":360,"d":0.0002},{"s":"LB","m":450,"d":0.0001},{"s":"LB","m":600,"d":0},{"s":"LB","m":1000,"d":0},
{"s":"BK","m":50,"d":0},{"s":"BK","m":70,"d":0.0005},{"s":"BK","m":95,"d":0.0011},{"s":"BK","m":130,"d":0.0011},{"s":"BK","m":160,"d":0.001},{"s":"BK","m":190,"d":0.002},{"s":"BK","m":215,"d":0.005},{"s":"BK","m":238,"d":0.0085},{"s":"BK","m":253,"d":0.0094},{"s":"BK","m":270,"d":0.007},{"s":"BK","m":290,"d":0.0035},{"s":"BK","m":310,"d":0.0015},{"s":"BK","m":340,"d":0.0009},{"s":"BK","m":380,"d":0.0007},{"s":"BK","m":410,"d":0.0009},{"s":"BK","m":440,"d":0.0008},{"s":"BK","m":470,"d":0.0006},{"s":"BK","m":500,"d":0.0003},{"s":"BK","m":520,"d":0.0001},{"s":"BK","m":600,"d":0.0001},{"s":"BK","m":820,"d":0.0001},{"s":"BK","m":1000,"d":0},
{"s":"DB","m":50,"d":0},{"s":"DB","m":80,"d":0.0012},{"s":"DB","m":100,"d":0.001},{"s":"DB","m":130,"d":0.0008},{"s":"DB","m":160,"d":0.0009},{"s":"DB","m":180,"d":0.0055},{"s":"DB","m":198,"d":0.012},{"s":"DB","m":212,"d":0.0125},{"s":"DB","m":226,"d":0.0128},{"s":"DB","m":242,"d":0.0092},{"s":"DB","m":258,"d":0.005},{"s":"DB","m":278,"d":0.0025},{"s":"DB","m":300,"d":0.001},{"s":"DB","m":340,"d":0.0003},{"s":"DB","m":400,"d":0.0001},{"s":"DB","m":600,"d":0.0001},{"s":"DB","m":850,"d":0.0001},{"s":"DB","m":1000,"d":0}
],
"b5": [
{"s":"LB","m":50,"d":0},{"s":"LB","m":80,"d":0.0008},{"s":"LB","m":120,"d":0.0014},{"s":"LB","m":140,"d":0.0018},{"s":"LB","m":170,"d":0.001},{"s":"LB","m":200,"d":0.0004},{"s":"LB","m":250,"d":0.0007},{"s":"LB","m":290,"d":0.0003},{"s":"LB","m":340,"d":0.0002},{"s":"LB","m":380,"d":0.001},{"s":"LB","m":420,"d":0.0015},{"s":"LB","m":460,"d":0.003},{"s":"LB","m":490,"d":0.0042},{"s":"LB","m":505,"d":0.0047},{"s":"LB","m":520,"d":0.004},{"s":"LB","m":540,"d":0.0045},{"s":"LB","m":560,"d":0.004},{"s":"LB","m":580,"d":0.0043},{"s":"LB","m":600,"d":0.004},{"s":"LB","m":630,"d":0.0025},{"s":"LB","m":660,"d":0.0008},{"s":"LB","m":700,"d":0.0002},{"s":"LB","m":750,"d":0},{"s":"LB","m":1080,"d":0},{"s":"LB","m":1100,"d":0.0002},{"s":"LB","m":1120,"d":0},{"s":"LB","m":1300,"d":0},
{"s":"BK","m":50,"d":0},{"s":"BK","m":60,"d":0.001},{"s":"BK","m":80,"d":0.0006},{"s":"BK","m":100,"d":0.0015},{"s":"BK","m":130,"d":0.0011},{"s":"BK","m":160,"d":0.0008},{"s":"BK","m":190,"d":0.0004},{"s":"BK","m":220,"d":0.0008},{"s":"BK","m":260,"d":0.0004},{"s":"BK","m":300,"d":0.0002},{"s":"BK","m":340,"d":0.0001},{"s":"BK","m":380,"d":0.001},{"s":"BK","m":400,"d":0.0007},{"s":"BK","m":430,"d":0.002},{"s":"BK","m":450,"d":0.0035},{"s":"BK","m":470,"d":0.0028},{"s":"BK","m":490,"d":0.004},{"s":"BK","m":510,"d":0.0042},{"s":"BK","m":530,"d":0.0035},{"s":"BK","m":550,"d":0.0045},{"s":"BK","m":565,"d":0.0048},{"s":"BK","m":580,"d":0.003},{"s":"BK","m":600,"d":0.0025},{"s":"BK","m":620,"d":0.0025},{"s":"BK","m":640,"d":0.002},{"s":"BK","m":660,"d":0.0006},{"s":"BK","m":700,"d":0.0003},{"s":"BK","m":740,"d":0.0001},{"s":"BK","m":780,"d":0.0003},{"s":"BK","m":810,"d":0.0001},{"s":"BK","m":860,"d":0},{"s":"BK","m":900,"d":0.0002},{"s":"BK","m":930,"d":0},{"s":"BK","m":1100,"d":0},{"s":"BK","m":1120,"d":0.0002},{"s":"BK","m":1140,"d":0},{"s":"BK","m":1300,"d":0},
{"s":"DB","m":40,"d":0},{"s":"DB","m":55,"d":0.002},{"s":"DB","m":70,"d":0.006},{"s":"DB","m":85,"d":0.0072},{"s":"DB","m":100,"d":0.0068},{"s":"DB","m":115,"d":0.004},{"s":"DB","m":130,"d":0.0015},{"s":"DB","m":150,"d":0.001},{"s":"DB","m":170,"d":0.0005},{"s":"DB","m":200,"d":0.0008},{"s":"DB","m":230,"d":0.0005},{"s":"DB","m":260,"d":0.0006},{"s":"DB","m":300,"d":0.0002},{"s":"DB","m":330,"d":0.0001},{"s":"DB","m":380,"d":0.0008},{"s":"DB","m":400,"d":0.0006},{"s":"DB","m":430,"d":0.0012},{"s":"DB","m":460,"d":0.0015},{"s":"DB","m":480,"d":0.0025},{"s":"DB","m":500,"d":0.0028},{"s":"DB","m":520,"d":0.0015},{"s":"DB","m":540,"d":0.0018},{"s":"DB","m":560,"d":0.0025},{"s":"DB","m":580,"d":0.0018},{"s":"DB","m":600,"d":0.0022},{"s":"DB","m":620,"d":0.0022},{"s":"DB","m":650,"d":0.0008},{"s":"DB","m":680,"d":0},{"s":"DB","m":1000,"d":0},{"s":"DB","m":1010,"d":0.0005},{"s":"DB","m":1040,"d":0},{"s":"DB","m":1290,"d":0},{"s":"DB","m":1310,"d":0.0002},{"s":"DB","m":1340,"d":0}
],
"c5": [
{"s":"LB","m":40,"d":0.001},{"s":"LB","m":60,"d":0.0048},{"s":"LB","m":80,"d":0.0035},{"s":"LB","m":100,"d":0.002},{"s":"LB","m":130,"d":0.0008},{"s":"LB","m":150,"d":0.0015},{"s":"LB","m":170,"d":0.0005},{"s":"LB","m":220,"d":0.0003},{"s":"LB","m":300,"d":0.0002},{"s":"LB","m":440,"d":0.0001},{"s":"LB","m":500,"d":0.0008},{"s":"LB","m":530,"d":0.0015},{"s":"LB","m":560,"d":0.0028},{"s":"LB","m":600,"d":0.0051},{"s":"LB","m":620,"d":0.0045},{"s":"LB","m":640,"d":0.0035},{"s":"LB","m":670,"d":0.003},{"s":"LB","m":690,"d":0.0043},{"s":"LB","m":710,"d":0.002},{"s":"LB","m":740,"d":0.001},{"s":"LB","m":770,"d":0.0008},{"s":"LB","m":800,"d":0.0003},{"s":"LB","m":840,"d":0.0001},{"s":"LB","m":1200,"d":0},{"s":"LB","m":1215,"d":0.0002},{"s":"LB","m":1240,"d":0},
{"s":"BK","m":40,"d":0},{"s":"BK","m":55,"d":0.004},{"s":"BK","m":73,"d":0.0118},{"s":"BK","m":90,"d":0.0095},{"s":"BK","m":105,"d":0.007},{"s":"BK","m":120,"d":0.004},{"s":"BK","m":140,"d":0.002},{"s":"BK","m":160,"d":0.0025},{"s":"BK","m":180,"d":0.001},{"s":"BK","m":220,"d":0.0004},{"s":"BK","m":250,"d":0.0005},{"s":"BK","m":290,"d":0.0006},{"s":"BK","m":330,"d":0.0003},{"s":"BK","m":400,"d":0.0001},{"s":"BK","m":500,"d":0.0001},{"s":"BK","m":560,"d":0.0005},{"s":"BK","m":600,"d":0.0012},{"s":"BK","m":630,"d":0.0018},{"s":"BK","m":650,"d":0.0025},{"s":"BK","m":670,"d":0.002},{"s":"BK","m":700,"d":0.0015},{"s":"BK","m":740,"d":0.0012},{"s":"BK","m":770,"d":0.0008},{"s":"BK","m":800,"d":0.0004},{"s":"BK","m":830,"d":0.0002},{"s":"BK","m":870,"d":0},{"s":"BK","m":1300,"d":0},{"s":"BK","m":1320,"d":0.0002},{"s":"BK","m":1340,"d":0},
{"s":"DB","m":40,"d":0},{"s":"DB","m":55,"d":0.004},{"s":"DB","m":75,"d":0.0102},{"s":"DB","m":95,"d":0.006},{"s":"DB","m":120,"d":0.003},{"s":"DB","m":150,"d":0.0028},{"s":"DB","m":170,"d":0.0015},{"s":"DB","m":200,"d":0.0005},{"s":"DB","m":240,"d":0.0008},{"s":"DB","m":300,"d":0.0003},{"s":"DB","m":400,"d":0.0001},{"s":"DB","m":560,"d":0.0003},{"s":"DB","m":600,"d":0.0022},{"s":"DB","m":620,"d":0.0018},{"s":"DB","m":640,"d":0.0026},{"s":"DB","m":660,"d":0.002},{"s":"DB","m":680,"d":0.0035},{"s":"DB","m":700,"d":0.0025},{"s":"DB","m":730,"d":0.0012},{"s":"DB","m":760,"d":0.0005},{"s":"DB","m":800,"d":0.0002},{"s":"DB","m":900,"d":0}
]
},
"columns": 3,
"spacing": {"row": 45, "column": 50},
"bounds": "flush",
"align": "each",
"resolve": {"scale": {"x": "independent", "y": "independent"}, "axis": {"x": "independent", "y": "independent"}},
"concat": [
{"width": 161, "height": 117, "data": {"name": "a1"},
 "title": {"text": "(a)", "anchor": "start", "frame": "bounds", "fontSize": 13, "baseline": "bottom", "offset": -12},
 "layer": [
  {"mark": {"type": "line", "strokeWidth": 1},
   "encoding": {
    "x": {"field": "m", "type": "quantitative", "scale": {"domain": [0, 1400], "nice": false}, "axis": {"values": [0,200,400,600,800,1000,1200,1400], "format": "d", "title": null}},
    "y": {"field": "d", "type": "quantitative", "scale": {"domain": [0, 0.0153], "nice": false}, "axis": {"values": [0,0.002,0.004,0.006,0.008,0.01,0.012,0.014], "labelExpr": "format(datum.value + 0.0001, '.3f')", "title": "Density", "titleFontSize": 8.5, "titlePadding": 3, "titleY": 36}},
    "color": {"field": "s", "type": "nominal", "scale": {"domain": ["LB","BK","DB"], "range": ["#5aa5e8","#1c1c1c","#3b45b8"]}, "legend": null}}},
  {"data": {"values": [{"t": "CaMKIIα-hub"}]}, "mark": {"type": "text", "fontSize": 16, "align": "center", "baseline": "alphabetic", "color": "#222"},
   "encoding": {
    "x": {"datum": 704, "type": "quantitative", "scale": {"domain": [0, 1400], "nice": false}, "axis": {"values": [0,200,400,600,800,1000,1200,1400], "format": "d", "title": null}},
    "y": {"datum": 0.01452, "type": "quantitative", "scale": {"domain": [0, 0.0153], "nice": false}, "axis": {"values": [0,0.002,0.004,0.006,0.008,0.01,0.012,0.014], "labelExpr": "format(datum.value + 0.0001, '.3f')", "title": "Density", "titleFontSize": 8.5, "titlePadding": 3, "titleY": 36}},
    "text": {"field": "t"}}}
 ]},
{"width": 186, "height": 117, "data": {"name": "b1"},
 "title": {"text": "(b)", "anchor": "start", "frame": "bounds", "fontSize": 13, "baseline": "bottom", "offset": -12},
 "layer": [
  {"mark": {"type": "line", "strokeWidth": 1},
   "encoding": {
    "x": {"field": "m", "type": "quantitative", "scale": {"domain": [0, 1400], "nice": false}, "axis": {"values": [0,200,400,600,800,1000,1200,1400], "format": "d", "title": null}},
    "y": {"field": "d", "type": "quantitative", "scale": {"domain": [0, 0.0074], "nice": false}, "axis": {"values": [0,0.001,0.002,0.003,0.004,0.005,0.006,0.007], "labelExpr": "format(datum.value + 0.0001, '.3f')", "title": null}},
    "color": {"field": "s", "type": "nominal", "scale": {"domain": ["LB","BK","DB"], "range": ["#5aa5e8","#1c1c1c","#3b45b8"]}, "legend": null}}},
  {"data": {"values": [{"t": "CaMKIIα-30"}]}, "mark": {"type": "text", "fontSize": 16, "align": "center", "baseline": "alphabetic", "color": "#222"},
   "encoding": {
    "x": {"datum": 730, "type": "quantitative", "scale": {"domain": [0, 1400], "nice": false}, "axis": {"values": [0,200,400,600,800,1000,1200,1400], "format": "d", "title": null}},
    "y": {"datum": 0.00702, "type": "quantitative", "scale": {"domain": [0, 0.0074], "nice": false}, "axis": {"values": [0,0.001,0.002,0.003,0.004,0.005,0.006,0.007], "labelExpr": "format(datum.value + 0.0001, '.3f')", "title": null}},
    "text": {"field": "t"}}}
 ]},
{"width": 183, "height": 117, "data": {"name": "c1"},
 "title": {"text": "(c)", "anchor": "start", "frame": "bounds", "fontSize": 13, "baseline": "bottom", "offset": -12},
 "layer": [
  {"mark": {"type": "line", "strokeWidth": 1},
   "encoding": {
    "x": {"field": "m", "type": "quantitative", "scale": {"domain": [0, 1400], "nice": false}, "axis": {"values": [0,200,400,600,800,1000,1200,1400], "format": "d", "title": null}},
    "y": {"field": "d", "type": "quantitative", "scale": {"domain": [0, 0.011], "nice": false}, "axis": {"values": [0,0.002,0.004,0.006,0.008,0.01], "labelExpr": "format(datum.value + 0.0001, '.3f')", "title": null}},
    "color": {"field": "s", "type": "nominal", "scale": {"domain": ["LB","BK","DB"], "range": ["#5aa5e8","#1c1c1c","#3b45b8"]}, "legend": null}}},
  {"data": {"values": [{"t": "CaMKIIα-0"}]}, "mark": {"type": "text", "fontSize": 16, "align": "center", "baseline": "alphabetic", "color": "#222"},
   "encoding": {
    "x": {"datum": 513, "type": "quantitative", "scale": {"domain": [0, 1400], "nice": false}, "axis": {"values": [0,200,400,600,800,1000,1200,1400], "format": "d", "title": null}},
    "y": {"datum": 0.01044, "type": "quantitative", "scale": {"domain": [0, 0.011], "nice": false}, "axis": {"values": [0,0.002,0.004,0.006,0.008,0.01], "labelExpr": "format(datum.value + 0.0001, '.3f')", "title": null}},
    "text": {"field": "t"}}},
  {"data": {"values": [{"t": "100 nM"}]}, "mark": {"type": "text", "fontSize": 13, "align": "right", "baseline": "middle", "color": "#222"},
   "encoding": {
    "x": {"datum": 1698, "type": "quantitative", "scale": {"domain": [0, 1400], "nice": false}, "axis": {"values": [0,200,400,600,800,1000,1200,1400], "format": "d", "title": null}},
    "y": {"datum": 0.00498, "type": "quantitative", "scale": {"domain": [0, 0.011], "nice": false}, "axis": {"values": [0,0.002,0.004,0.006,0.008,0.01], "labelExpr": "format(datum.value + 0.0001, '.3f')", "title": null}},
    "text": {"field": "t"}}}
 ]},
{"width": 161, "height": 113, "data": {"name": "a2"}, "mark": {"type": "line", "strokeWidth": 1},
 "encoding": {
  "x": {"field": "m", "type": "quantitative", "scale": {"domain": [0, 1400], "nice": false}, "axis": {"values": [0,200,400,600,800,1000,1200,1400], "format": "d", "title": null}},
  "y": {"field": "d", "type": "quantitative", "scale": {"domain": [0, 0.018], "nice": false}, "axis": {"values": [0,0.0025,0.005,0.0075,0.01,0.0125,0.015,0.0175], "labelExpr": "format(datum.value + 0.0001, '.3f')", "title": "Density", "titleFontSize": 8.5, "titlePadding": 3, "titleY": 51}},
  "color": {"field": "s", "type": "nominal", "scale": {"domain": ["LB","BK","DB"], "range": ["#5aa5e8","#1c1c1c","#3b45b8"]}, "legend": null}}},
{"width": 186, "height": 113, "data": {"name": "b2"}, "mark": {"type": "line", "strokeWidth": 1},
 "encoding": {
  "x": {"field": "m", "type": "quantitative", "scale": {"domain": [0, 1400], "nice": false}, "axis": {"values": [0,200,400,600,800,1000,1200,1400], "format": "d", "title": null}},
  "y": {"field": "d", "type": "quantitative", "scale": {"domain": [0, 0.009], "nice": false}, "axis": {"values": [0,0.002,0.004,0.006,0.008], "labelExpr": "format(datum.value + 0.0001, '.3f')", "title": null}},
  "color": {"field": "s", "type": "nominal", "scale": {"domain": ["LB","BK","DB"], "range": ["#5aa5e8","#1c1c1c","#3b45b8"]}, "legend": null}}},
{"width": 183, "height": 113, "data": {"name": "c2"},
 "layer": [
  {"mark": {"type": "line", "strokeWidth": 1},
   "encoding": {
    "x": {"field": "m", "type": "quantitative", "scale": {"domain": [0, 1400], "nice": false}, "axis": {"values": [0,200,400,600,800,1000,1200,1400], "format": "d", "title": null}},
    "y": {"field": "d", "type": "quantitative", "scale": {"domain": [0, 0.0135], "nice": false}, "axis": {"values": [0,0.002,0.004,0.006,0.008,0.01,0.012], "labelExpr": "format(datum.value + 0.0001, '.3f')", "title": null}},
    "color": {"field": "s", "type": "nominal", "scale": {"domain": ["LB","BK","DB"], "range": ["#5aa5e8","#1c1c1c","#3b45b8"]}, "legend": null}}},
  {"data": {"values": [{"t": "90 nM"}]}, "mark": {"type": "text", "fontSize": 13, "align": "right", "baseline": "middle", "color": "#222"},
   "encoding": {
    "x": {"datum": 1698, "type": "quantitative", "scale": {"domain": [0, 1400], "nice": false}, "axis": {"values": [0,200,400,600,800,1000,1200,1400], "format": "d", "title": null}},
    "y": {"datum": 0.00645, "type": "quantitative", "scale": {"domain": [0, 0.0135], "nice": false}, "axis": {"values": [0,0.002,0.004,0.006,0.008,0.01,0.012], "labelExpr": "format(datum.value + 0.0001, '.3f')", "title": null}},
    "text": {"field": "t"}}}
 ]},
{"width": 161, "height": 119, "data": {"name": "a3"}, "mark": {"type": "line", "strokeWidth": 1},
 "encoding": {
  "x": {"field": "m", "type": "quantitative", "scale": {"domain": [0, 1400], "nice": false}, "axis": {"values": [0,200,400,600,800,1000,1200,1400], "format": "d", "title": null}},
  "y": {"field": "d", "type": "quantitative", "scale": {"domain": [0, 0.0165], "nice": false}, "axis": {"values": [0,0.002,0.004,0.006,0.008,0.01,0.012,0.014,0.016], "labelExpr": "format(datum.value + 0.0001, '.3f')", "title": "Density", "titleFontSize": 8.5, "titlePadding": 3}},
  "color": {"field": "s", "type": "nominal", "scale": {"domain": ["LB","BK","DB"], "range": ["#5aa5e8","#1c1c1c","#3b45b8"]}, "legend": null}}},
{"width": 186, "height": 119, "data": {"name": "b3"}, "mark": {"type": "line", "strokeWidth": 1},
 "encoding": {
  "x": {"field": "m", "type": "quantitative", "scale": {"domain": [0, 1400], "nice": false}, "axis": {"values": [0,200,400,600,800,1000,1200,1400], "format": "d", "title": null}},
  "y": {"field": "d", "type": "quantitative", "scale": {"domain": [0, 0.0096], "nice": false}, "axis": {"values": [0,0.002,0.004,0.006,0.008], "labelExpr": "format(datum.value + 0.0001, '.3f')", "title": null}},
  "color": {"field": "s", "type": "nominal", "scale": {"domain": ["LB","BK","DB"], "range": ["#5aa5e8","#1c1c1c","#3b45b8"]}, "legend": null}}},
{"width": 183, "height": 119, "data": {"name": "c3"},
 "layer": [
  {"mark": {"type": "line", "strokeWidth": 1},
   "encoding": {
    "x": {"field": "m", "type": "quantitative", "scale": {"domain": [0, 1400], "nice": false}, "axis": {"values": [0,200,400,600,800,1000,1200,1400], "format": "d", "title": null}},
    "y": {"field": "d", "type": "quantitative", "scale": {"domain": [0, 0.0146], "nice": false}, "axis": {"values": [0,0.002,0.004,0.006,0.008,0.01,0.012,0.014], "labelExpr": "format(datum.value + 0.0001, '.3f')", "title": null}},
    "color": {"field": "s", "type": "nominal", "scale": {"domain": ["LB","BK","DB"], "range": ["#5aa5e8","#1c1c1c","#3b45b8"]}, "legend": null}}},
  {"data": {"values": [{"t": "75 nM"}]}, "mark": {"type": "text", "fontSize": 13, "align": "right", "baseline": "middle", "color": "#222"},
   "encoding": {
    "x": {"datum": 1698, "type": "quantitative", "scale": {"domain": [0, 1400], "nice": false}, "axis": {"values": [0,200,400,600,800,1000,1200,1400], "format": "d", "title": null}},
    "y": {"datum": 0.00687, "type": "quantitative", "scale": {"domain": [0, 0.0146], "nice": false}, "axis": {"values": [0,0.002,0.004,0.006,0.008,0.01,0.012,0.014], "labelExpr": "format(datum.value + 0.0001, '.3f')", "title": null}},
    "text": {"field": "t"}}}
 ]},
{"width": 161, "height": 119, "data": {"name": "a4"}, "mark": {"type": "line", "strokeWidth": 1},
 "encoding": {
  "x": {"field": "m", "type": "quantitative", "scale": {"domain": [0, 1400], "nice": false}, "axis": {"values": [0,200,400,600,800,1000,1200,1400], "format": "d", "title": null}},
  "y": {"field": "d", "type": "quantitative", "scale": {"domain": [0, 0.0165], "nice": false}, "axis": {"values": [0,0.002,0.004,0.006,0.008,0.01,0.012,0.014,0.016], "labelExpr": "format(datum.value + 0.0001, '.3f')", "title": "Density", "titleFontSize": 8.5, "titlePadding": 3}},
  "color": {"field": "s", "type": "nominal", "scale": {"domain": ["LB","BK","DB"], "range": ["#5aa5e8","#1c1c1c","#3b45b8"]}, "legend": null}}},
{"width": 186, "height": 119, "data": {"name": "b4"}, "mark": {"type": "line", "strokeWidth": 1},
 "encoding": {
  "x": {"field": "m", "type": "quantitative", "scale": {"domain": [0, 1400], "nice": false}, "axis": {"values": [0,200,400,600,800,1000,1200,1400], "format": "d", "title": null}},
  "y": {"field": "d", "type": "quantitative", "scale": {"domain": [0, 0.0073], "nice": false}, "axis": {"values": [0,0.001,0.002,0.003,0.004,0.005,0.006,0.007], "labelExpr": "format(datum.value + 0.0001, '.3f')", "title": null}},
  "color": {"field": "s", "type": "nominal", "scale": {"domain": ["LB","BK","DB"], "range": ["#5aa5e8","#1c1c1c","#3b45b8"]}, "legend": null}}},
{"width": 183, "height": 119, "data": {"name": "c4"},
 "layer": [
  {"mark": {"type": "line", "strokeWidth": 1},
   "encoding": {
    "x": {"field": "m", "type": "quantitative", "scale": {"domain": [0, 1400], "nice": false}, "axis": {"values": [0,200,400,600,800,1000,1200,1400], "format": "d", "title": null}},
    "y": {"field": "d", "type": "quantitative", "scale": {"domain": [0, 0.0088], "nice": false}, "axis": {"values": [0,0.002,0.004,0.006,0.008], "labelExpr": "format(datum.value + 0.0001, '.3f')", "title": null}},
    "color": {"field": "s", "type": "nominal", "scale": {"domain": ["LB","BK","DB"], "range": ["#5aa5e8","#1c1c1c","#3b45b8"]}, "legend": null}}},
  {"data": {"values": [{"t": "60 nM"}]}, "mark": {"type": "text", "fontSize": 13, "align": "right", "baseline": "middle", "color": "#222"},
   "encoding": {
    "x": {"datum": 1698, "type": "quantitative", "scale": {"domain": [0, 1400], "nice": false}, "axis": {"values": [0,200,400,600,800,1000,1200,1400], "format": "d", "title": null}},
    "y": {"datum": 0.00444, "type": "quantitative", "scale": {"domain": [0, 0.0088], "nice": false}, "axis": {"values": [0,0.002,0.004,0.006,0.008], "labelExpr": "format(datum.value + 0.0001, '.3f')", "title": null}},
    "text": {"field": "t"}}}
 ]},
{"width": 161, "height": 127, "data": {"name": "a5"}, "mark": {"type": "line", "strokeWidth": 1},
 "encoding": {
  "x": {"field": "m", "type": "quantitative", "scale": {"domain": [0, 1400], "nice": false}, "axis": {"values": [0,200,400,600,800,1000,1200,1400], "format": "d", "title": "Mass (kDa)", "titleFontSize": 9.5, "titleX": 73, "titleY": 25, "titleBaseline": "middle"}},
  "y": {"field": "d", "type": "quantitative", "scale": {"domain": [0, 0.0154], "nice": false}, "axis": {"values": [0,0.002,0.004,0.006,0.008,0.01,0.012,0.014], "labelExpr": "format(datum.value + 0.0001, '.3f')", "title": "Density", "titleFontSize": 8.5, "titlePadding": 3, "titleY": 47}},
  "color": {"field": "s", "type": "nominal", "scale": {"domain": ["LB","BK","DB"], "range": ["#5aa5e8","#1c1c1c","#3b45b8"]}, "legend": null}}},
{"width": 186, "height": 118, "data": {"name": "b5"}, "mark": {"type": "line", "strokeWidth": 1},
 "encoding": {
  "x": {"field": "m", "type": "quantitative", "scale": {"domain": [0, 1400], "nice": false}, "axis": {"values": [0,200,400,600,800,1000,1200,1400], "format": "d", "title": "Mass (kDa)", "titleFontSize": 9.5, "titleX": 85, "titleY": 32, "titleBaseline": "middle"}},
  "y": {"field": "d", "type": "quantitative", "scale": {"domain": [0, 0.0086], "nice": false}, "axis": {"values": [0,0.001,0.002,0.003,0.004,0.005,0.006,0.007,0.008], "labelExpr": "format(datum.value + 0.0001, '.3f')", "title": null}},
  "color": {"field": "s", "type": "nominal", "scale": {"domain": ["LB","BK","DB"], "range": ["#5aa5e8","#1c1c1c","#3b45b8"]}, "legend": null}}},
{"width": 183, "height": 118, "data": {"name": "c5"},
 "layer": [
  {"mark": {"type": "line", "strokeWidth": 1},
   "encoding": {
    "x": {"field": "m", "type": "quantitative", "scale": {"domain": [0, 1400], "nice": false}, "axis": {"values": [0,200,400,600,800,1000,1200,1400], "format": "d", "title": "Mass (kDa)", "titleFontSize": 9.5, "titleX": 64, "titleY": 32, "titleBaseline": "middle"}},
    "y": {"field": "d", "type": "quantitative", "scale": {"domain": [0, 0.0151], "nice": false}, "axis": {"values": [0,0.002,0.004,0.006,0.008,0.01,0.012,0.014], "labelExpr": "format(datum.value + 0.0001, '.3f')", "title": null}},
    "color": {"field": "s", "type": "nominal", "scale": {"domain": ["LB","BK","DB"], "range": ["#5aa5e8","#1c1c1c","#3b45b8"]}, "legend": null}}},
  {"data": {"values": [{"t": "45 nM"}]}, "mark": {"type": "text", "fontSize": 13, "align": "right", "baseline": "middle", "color": "#222"},
   "encoding": {
    "x": {"datum": 1698, "type": "quantitative", "scale": {"domain": [0, 1400], "nice": false}, "axis": {"values": [0,200,400,600,800,1000,1200,1400], "format": "d", "title": "Mass (kDa)", "titleFontSize": 9.5, "titleX": 64, "titleY": 32, "titleBaseline": "middle"}},
    "y": {"datum": 0.00729, "type": "quantitative", "scale": {"domain": [0, 0.0151], "nice": false}, "axis": {"values": [0,0.002,0.004,0.006,0.008,0.01,0.012,0.014], "labelExpr": "format(datum.value + 0.0001, '.3f')", "title": null}},
    "text": {"field": "t"}}}
 ]}
]
}
